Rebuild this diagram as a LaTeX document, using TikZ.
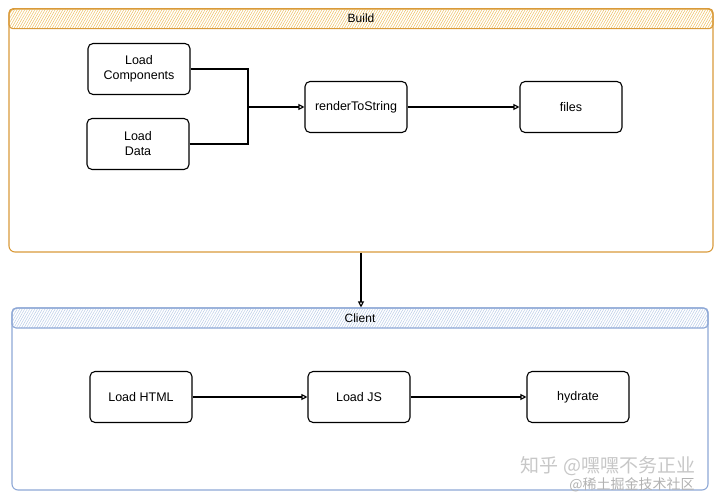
\documentclass[tikz,border=0pt]{standalone}
\usepackage{fontspec}
\setmainfont{Liberation Sans}
\newfontfamily\cjk{Noto Sans CJK SC}
\usetikzlibrary{arrows.meta,patterns.meta}
\definecolor{buildline}{HTML}{D99A3A}
\definecolor{buildhatch}{HTML}{EDBE5E}
\definecolor{clientline}{HTML}{8EA8D6}
\definecolor{clienthatch}{HTML}{B9CBE6}
\begin{document}
\begin{tikzpicture}[x=1pt,y=-1pt]
    \tikzstyle{box}=[draw, line width=1.1pt, rounded corners=5pt,
                            minimum width=102pt, minimum height=51pt,
                            align=center, font=\fontsize{12.5}{15}\selectfont]
    \tikzstyle{frame}=[draw, line width=1.1pt, rounded corners=6pt, inner sep=0pt]
    \tikzstyle{head}=[line width=1.1pt, rounded corners=4pt, anchor=north,
                            minimum height=20pt, inner sep=0pt]
    \tikzstyle{conn}=[line width=1.1pt, -{Triangle[open,length=6pt,width=6pt]}]
    \useasboundingbox (0,0) rectangle (720,497);

    \node[frame, buildline, minimum width=704pt, minimum height=243pt] (build) at (361,130.5) {};
    \node[head, draw=buildline, minimum width=704pt,
          pattern={Lines[angle=60,distance=2.2pt,line width=0.5pt]},
          pattern color=buildhatch] (bh) at (build.north) {};
    \node[font=\fontsize{12}{14}\selectfont] (bt) at (bh.center) {Build};

    \node[frame, clientline, minimum width=696pt, minimum height=182pt] (client) at (360,399) {};
    \node[head, draw=clientline, minimum width=696pt,
          pattern={Lines[angle=60,distance=2.2pt,line width=0.5pt]},
          pattern color=clienthatch] (ch) at (client.north) {};
    \node[font=\fontsize{12}{14}\selectfont] (ct) at (ch.center) {Client};

    \node[box] (lc) at (139,69) {Load\\Components};
    \node[box] (ld) at (138,144) {Load\\Data};
    \node[box] (rs) at (356,107) {renderToString};
    \node[box] (fi) at (571,107) {files};

    \node[box] (lh) at (141,397) {Load HTML};
    \node[box] (lj) at (359,397) {Load JS};
    \node[box] (hy) at (578,397) {hydrate};

    \coordinate (j) at (248,107);
    \draw[line width=1.1pt] (lc.east) -| (j);
    \draw[line width=1.1pt] (ld.east) -| (j);
    \draw[conn] (j) -- (rs.west);
    \draw[conn] (rs) -- (fi);
    \draw[conn] (build.south) -- (build.south |- client.north);
    \draw[conn] (lh) -- (lj);
    \draw[conn] (lj) -- (hy);

    \node[text=black!22, font=\cjk\fontsize{19}{22}\selectfont] (wm) at (608,466) {知乎 @嘿嘿不务正业};
    \node[text=black!30, font=\cjk\fontsize{14}{16}\selectfont] (wj) at (632,485) {@稀土掘金技术社区};
\end{tikzpicture}
\end{document}
